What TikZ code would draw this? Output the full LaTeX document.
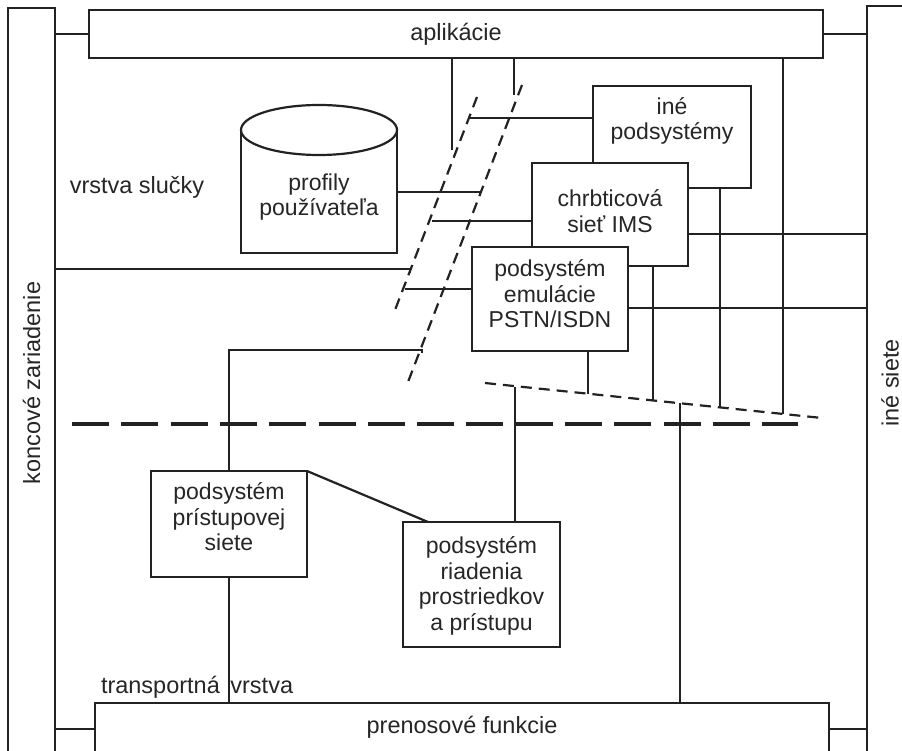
\documentclass[tikz,border=0pt]{standalone}
\usepackage{fontspec}
\setmainfont{Liberation Sans}
\usetikzlibrary{calc}
\definecolor{ink}{HTML}{222222}
\definecolor{txtc}{HTML}{262626}
\begin{document}
\begin{tikzpicture}[x=1pt,y=-1pt,
  every node/.style={inner sep=0pt, outer sep=0pt},
  box/.style={draw=ink, line width=2.2pt, fill=white, rectangle},
  txt/.style={text=txtc, align=center, font=\fontsize{23}{25.5}\selectfont},
  freetxt/.style={text=txtc, align=center, font=\fontsize{23.5}{26}\selectfont},
  conn/.style={draw=ink, line width=2.2pt},
  thindash/.style={draw=ink, line width=2.2pt, dash pattern=on 11pt off 7pt},
  thickdash/.style={draw=ink, line width=4pt, dash pattern=on 37pt off 12.3pt}]
\useasboundingbox (0,0) rectangle (902,751);
\clip (0,0) rectangle (902,751);
\fill[white] (0,0) rectangle (902,751);

% side bars
\node[box, minimum width=47, minimum height=752] (leftbar) at (31.5,384) {};
\node[freetxt, rotate=90] (lefttext) at (31.5,383) {koncové zariadenie};
\node[box, minimum width=45, minimum height=754] (rightbar) at (889.5,383) {};
\node[freetxt, rotate=90] (righttext) at (890,383) {iné siete};

% top and bottom bars
\node[box, minimum width=734, minimum height=48] (app) at (456,34) {};
\node[freetxt] (apptext) at (456,34) {aplikácie};
\node[box, minimum width=734, minimum height=52] (bot) at (462,729) {};
\node[freetxt] (bottext) at (462,727) {prenosové funkcie};

% bar connectors
\draw[conn] (leftbar.east |- app.west) -- (app.west);
\draw[conn] (app.east) -- (rightbar.west |- app.east);
\draw[conn] (leftbar.east |- bot.west) -- (bot.west);
\draw[conn] (bot.east) -- (rightbar.west |- bot.east);

% upper subsystems
\node[box, minimum width=158, minimum height=102] (ine) at (672,137) {};
\node[txt] (inetext) at (672,121) {iné\\podsystémy};
\node[box, minimum width=156, minimum height=103] (ims) at (610,214.5) {};
\node[txt] (imstext) at (610,211) {chrbticová\\sieť IMS};
\node[box, minimum width=156, minimum height=104] (pstn) at (550,299) {};
\node[txt] (pstntext) at (550,294) {podsystém\\emulácie\\PSTN/ISDN};

% cylinder
\node[minimum width=156, minimum height=148] (cyl) at (319,179) {};
\draw[ink, line width=2.2pt, fill=white] (241,130) -- (241,253) -- (397,253) -- (397,130);
\draw[ink, line width=2.2pt, fill=white] (319,130) ellipse [x radius=78pt, y radius=25pt];
\node[txt] (cyltext) at (319,197) {profily\\používateľa};

% lower subsystems
\node[box, minimum width=156, minimum height=106] (acc) at (229,524) {};
\node[txt] (acctext) at (229,517) {podsystém\\prístupovej\\siete};
\node[box, minimum width=157, minimum height=125] (res) at (481.5,584.5) {};
\node[txt] (restext) at (481.5,586) {podsystém\\riadenia\\prostriedkov\\a prístupu};

% free ends
\coordinate (e1) at (452,150);
\coordinate (e2) at (514,95);
\coordinate (e3) at (470,118);
\coordinate (e4) at (480,192);
\coordinate (e5) at (432,221);
\coordinate (e6) at (410,269);
\coordinate (e7) at (405,289);
\coordinate (e8) at (422,350);
\coordinate (f1) at (588,393.5);
\coordinate (f2) at (653,400.5);
\coordinate (f3) at (720,407.5);
\coordinate (f4) at (783,414);
\coordinate (f5) at (515,387);
\coordinate (f6) at (680,403);
\coordinate (yims) at (0,234);
\coordinate (ypstn) at (0,308);

% dashed boundaries
\coordinate (d1a) at (477,97);  \coordinate (d1b) at (395,310);
\coordinate (d2a) at (522,85);  \coordinate (d2b) at (408,382);
\coordinate (d3a) at (485,383); \coordinate (d3b) at (822,418);
\coordinate (d4a) at (72,424);  \coordinate (d4b) at (798,424);
\draw[thindash] (d1a) -- (d1b);
\draw[thindash] (d2a) -- (d2b);
\draw[thindash] (d3a) -- (d3b);
\draw[thickdash] (d4a) -- (d4b);

% connectors in the upper layer
\draw[conn] (e1 |- app.south) -- (e1);
\draw[conn] (e2 |- app.south) -- (e2);
\draw[conn] (e3) -- (e3 -| ine.west);
\draw[conn] (e4 -| cyl.east) -- (e4) -- ++(0,4);
\draw[conn] (e5) -- (e5 -| ims.west);
\draw[conn] (e6 -| leftbar.east) -- (e6) -- ++(0,4);
\draw[conn] (e7) -- (e7 -| pstn.west);
\draw[conn] (e8) ++(0,3) -- (e8) -- (e8 -| acc.north) -- (acc.north);
\draw[conn] (ims.east |- yims) -- (rightbar.west |- yims);
\draw[conn] (pstn.east |- ypstn) -- (rightbar.west |- ypstn);
\draw[conn] (f1 |- pstn.south) -- (f1);
\draw[conn] (f2 |- ims.south) -- (f2);
\draw[conn] (f3 |- ine.south) -- (f3);
\draw[conn] (f4 |- app.south) -- (f4);

% connectors in the transport layer
\draw[conn] (f5) -- (f5 |- res.north);
\draw[conn] (f6) -- (f6 |- bot.north);
\draw[conn] (acc.north east) -- ($(res.north west)+(25,0)$);
\draw[conn] (acc.south) -- (acc.south |- bot.north);
\draw[conn] ($(res.south west)+(47,0)$) -- ($(res.south west)+(47,0)$ |- bot.north);

\node[freetxt, anchor=west] (transtext) at (101,687) {transportná\hspace{0.45em}vrstva};
\node[freetxt] (looptext) at (137,187) {vrstva slučky};
\end{tikzpicture}
\end{document}
